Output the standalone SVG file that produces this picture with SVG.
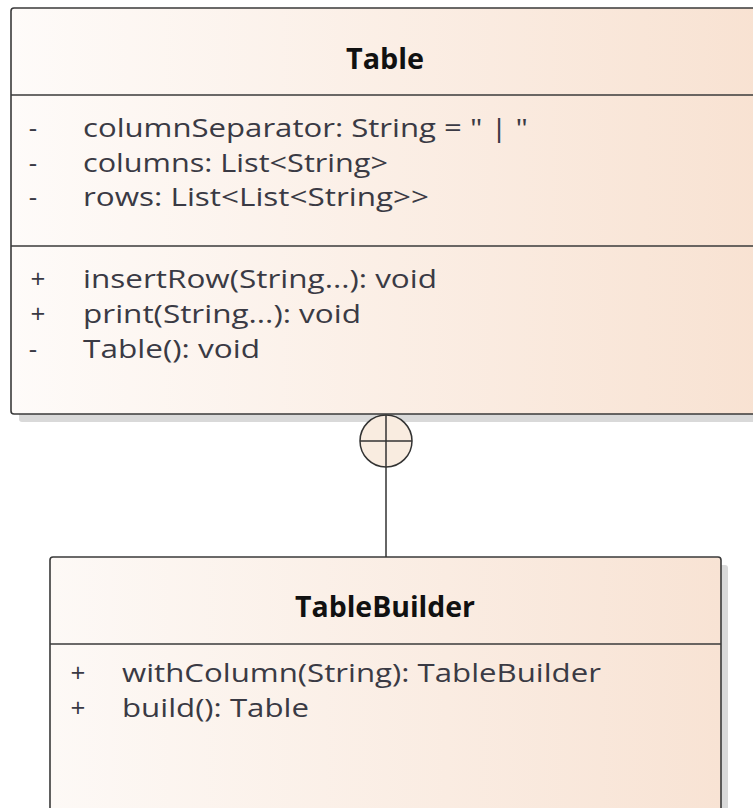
<svg xmlns="http://www.w3.org/2000/svg" width="753" height="808" viewBox="0 0 753 808">
<style>
.box{stroke:#3a3a3a;stroke-width:1.6;}
.sep{stroke:#3a3a3a;stroke-width:1.6;}
.title{font-family:"Open Sans","Noto Sans",sans-serif;font-size:28px;font-weight:bold;fill:#111;text-anchor:middle;}
.txt{font-family:"Open Sans","Noto Sans",sans-serif;font-size:26px;fill:#3a3a44;}
.vis{font-family:"Open Sans","Noto Sans",sans-serif;font-size:26px;fill:#3a3a44;text-anchor:middle;}
.shadow{fill:#d9d9d9;}
.conn{stroke:#333;stroke-width:1.5;fill:none;}
</style>
<defs>
<linearGradient id="g" x1="0" y1="0" x2="1" y2="0">
<stop offset="0" stop-color="#fefbf9"/>
<stop offset="1" stop-color="#f8e2d2"/>
</linearGradient>
<linearGradient id="g2" x1="0" y1="0" x2="1" y2="0">
<stop offset="0" stop-color="#fdf9f6"/>
<stop offset="1" stop-color="#f8e3d4"/>
</linearGradient>
</defs>
<rect width="753" height="808" fill="#ffffff"/>
<g id="Table">
<rect class="shadow" x="19" y="16" width="750" height="406" rx="3"/>
<rect class="box" x="11" y="8" width="750" height="406" rx="3" fill="url(#g)"/>
<line class="sep" x1="11" y1="95" x2="761" y2="95"/>
<line class="sep" x1="11" y1="246" x2="761" y2="246"/>
<text class="title" x="385" y="69" textLength="78" lengthAdjust="spacingAndGlyphs">Table</text>
<text class="vis" x="33" y="137">-</text><text class="txt" x="83" y="137" textLength="445" lengthAdjust="spacingAndGlyphs">columnSeparator: String = " | "</text>
<text class="vis" x="33" y="171.5">-</text><text class="txt" x="83" y="171.5" textLength="305" lengthAdjust="spacingAndGlyphs">columns: List&lt;String&gt;</text>
<text class="vis" x="33" y="206">-</text><text class="txt" x="83" y="206" textLength="346" lengthAdjust="spacingAndGlyphs">rows: List&lt;List&lt;String&gt;&gt;</text>
<text class="vis" x="38" y="288">+</text><text class="txt" x="83" y="288" textLength="354" lengthAdjust="spacingAndGlyphs">insertRow(String...): void</text>
<text class="vis" x="38" y="323">+</text><text class="txt" x="83" y="323" textLength="278" lengthAdjust="spacingAndGlyphs">print(String...): void</text>
<text class="vis" x="33" y="358">-</text><text class="txt" x="83" y="358" textLength="177" lengthAdjust="spacingAndGlyphs">Table(): void</text>
</g>
<g id="TableBuilder">
<rect class="shadow" x="57" y="565" width="671" height="260" rx="3"/>
<rect class="box" x="50" y="557" width="671" height="260" rx="3" fill="url(#g2)"/>
<line class="sep" x1="50" y1="644" x2="721" y2="644"/>
<text class="title" x="385" y="617" textLength="180" lengthAdjust="spacingAndGlyphs">TableBuilder</text>
<text class="vis" x="78" y="682">+</text><text class="txt" x="122" y="682" textLength="479" lengthAdjust="spacingAndGlyphs">withColumn(String): TableBuilder</text>
<text class="vis" x="78" y="717">+</text><text class="txt" x="122" y="717" textLength="187" lengthAdjust="spacingAndGlyphs">build(): Table</text>
</g>
<g id="connectors">
<line class="conn" x1="386" y1="467" x2="386" y2="557"/>
<circle cx="386" cy="441" r="26" fill="#f9ece0" stroke="#333" stroke-width="1.5"/>
<line class="conn" x1="386" y1="415" x2="386" y2="467"/>
<line class="conn" x1="360" y1="441" x2="412" y2="441"/>
</g>
</svg>
